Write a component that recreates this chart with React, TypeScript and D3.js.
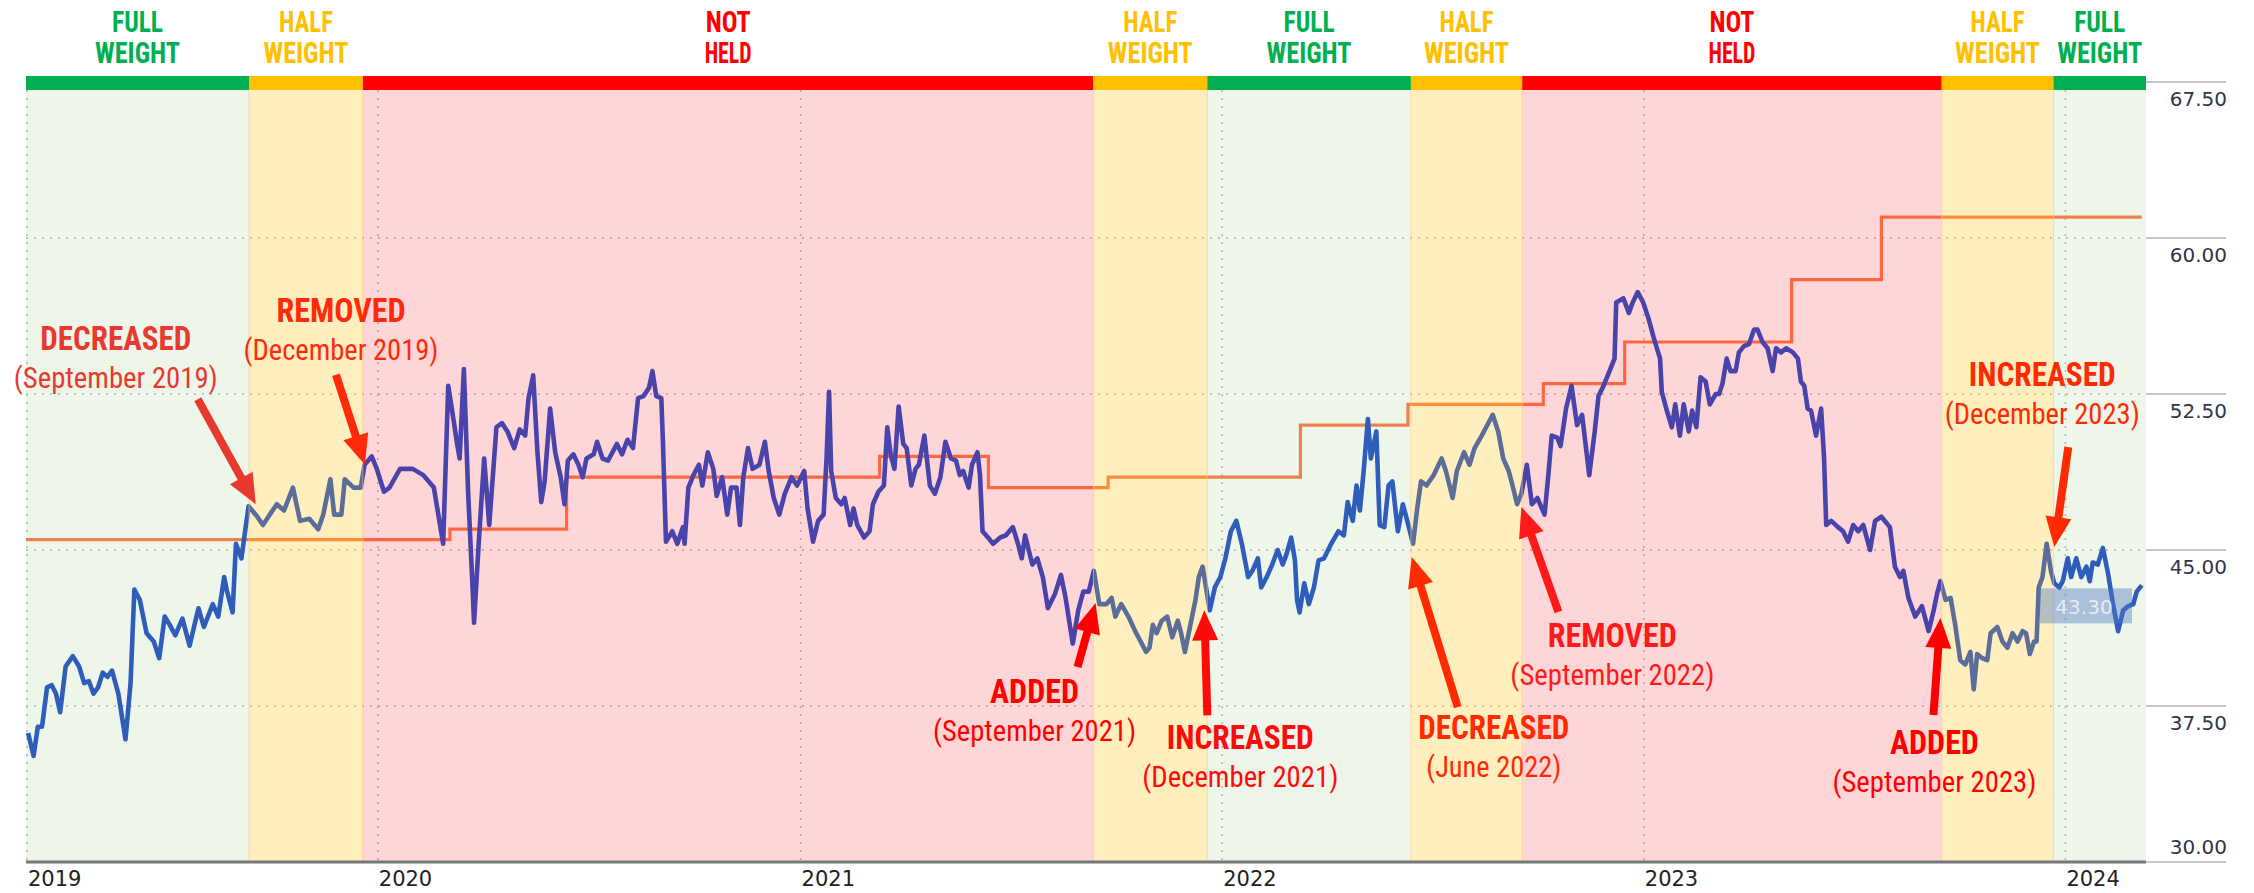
import React from "react";
import * as d3 from "d3";

const W = 2254;
const H = 893;

// closing price, [decimal year, price]
const price: [number, number][] = [
  [2019.173, 36.2], [2019.186, 35.1], [2019.196, 36.5], [2019.206, 36.5], [2019.218, 38.4], [2019.229, 38.5],
  [2019.239, 38.1], [2019.249, 37.2], [2019.262, 39.4], [2019.279, 39.9], [2019.294, 39.4], [2019.306, 38.6],
  [2019.317, 38.7], [2019.328, 38.1], [2019.339, 38.4], [2019.35, 39.1], [2019.361, 38.9], [2019.372, 39.2],
  [2019.387, 38.1], [2019.404, 35.9], [2019.416, 38.6], [2019.425, 43.1], [2019.438, 42.6], [2019.454, 41.0],
  [2019.471, 40.6], [2019.484, 39.8], [2019.497, 41.8], [2019.509, 41.4], [2019.522, 40.9], [2019.539, 41.7],
  [2019.556, 40.4], [2019.577, 42.2], [2019.59, 41.3], [2019.611, 42.4], [2019.624, 41.8], [2019.638, 43.7],
  [2019.645, 43.0], [2019.658, 42.0], [2019.666, 45.3], [2019.679, 44.6], [2019.687, 45.8], [2019.696, 47.1],
  [2019.713, 46.7], [2019.73, 46.2], [2019.746, 46.7], [2019.763, 47.2], [2019.78, 46.9], [2019.801, 48.0],
  [2019.818, 46.4], [2019.84, 46.5], [2019.861, 46.0], [2019.873, 46.7], [2019.89, 48.4], [2019.899, 46.7],
  [2019.916, 46.7], [2019.924, 48.4], [2019.945, 48.0], [2019.962, 48.0], [2019.971, 49.1], [2019.988, 49.5],
  [2020.0, 48.9], [2020.017, 47.8], [2020.03, 48.0], [2020.055, 48.9], [2020.085, 48.9], [2020.11, 48.6],
  [2020.135, 48.0], [2020.157, 45.3], [2020.169, 52.9], [2020.182, 51.2], [2020.19, 50.1], [2020.196, 49.4],
  [2020.206, 53.7], [2020.216, 47.8], [2020.227, 43.0], [2020.23, 41.5], [2020.241, 45.3], [2020.254, 49.4],
  [2020.266, 46.2], [2020.283, 50.9], [2020.296, 51.1], [2020.309, 50.7], [2020.325, 49.9], [2020.338, 50.8],
  [2020.351, 50.5], [2020.359, 52.3], [2020.37, 53.4], [2020.38, 49.7], [2020.389, 47.3], [2020.397, 48.3],
  [2020.41, 51.8], [2020.422, 49.7], [2020.435, 48.5], [2020.444, 47.2], [2020.452, 49.3], [2020.465, 49.6],
  [2020.477, 49.1], [2020.487, 48.5], [2020.496, 49.4], [2020.513, 49.6], [2020.521, 50.2], [2020.534, 49.4],
  [2020.547, 49.3], [2020.568, 50.1], [2020.58, 49.6], [2020.593, 50.3], [2020.606, 49.9], [2020.618, 52.3],
  [2020.631, 52.4], [2020.644, 52.8], [2020.652, 53.6], [2020.661, 52.4], [2020.673, 52.3], [2020.677, 50.1],
  [2020.684, 45.4], [2020.699, 45.9], [2020.711, 45.3], [2020.724, 46.1], [2020.728, 45.3], [2020.737, 48.0],
  [2020.749, 48.6], [2020.762, 49.1], [2020.77, 48.1], [2020.783, 49.7], [2020.796, 48.9], [2020.804, 47.6],
  [2020.817, 48.5], [2020.829, 46.7], [2020.838, 48.0], [2020.851, 48.0], [2020.859, 46.2], [2020.867, 48.5],
  [2020.878, 49.9], [2020.889, 48.9], [2020.905, 49.1], [2020.918, 50.2], [2020.927, 48.8], [2020.939, 47.5],
  [2020.952, 46.7], [2020.965, 47.7], [2020.981, 48.5], [2020.994, 48.1], [2021.011, 48.8], [2021.019, 47.0],
  [2021.032, 45.4], [2021.044, 46.4], [2021.057, 46.7], [2021.064, 49.4], [2021.07, 52.6], [2021.075, 48.8],
  [2021.086, 47.5], [2021.099, 47.2], [2021.107, 47.5], [2021.12, 46.2], [2021.128, 47.0], [2021.137, 46.2],
  [2021.153, 45.6], [2021.166, 45.9], [2021.174, 47.2], [2021.187, 47.8], [2021.2, 48.1], [2021.208, 50.9],
  [2021.216, 49.6], [2021.225, 48.9], [2021.235, 51.9], [2021.246, 50.1], [2021.254, 49.9], [2021.265, 48.1],
  [2021.275, 48.9], [2021.283, 49.1], [2021.296, 50.5], [2021.309, 48.1], [2021.321, 47.7], [2021.334, 48.5],
  [2021.346, 50.2], [2021.359, 49.4], [2021.371, 49.3], [2021.38, 48.6], [2021.388, 48.8], [2021.401, 48.0],
  [2021.409, 49.1], [2021.422, 49.7], [2021.428, 48.6], [2021.434, 45.9], [2021.447, 45.6], [2021.459, 45.3],
  [2021.476, 45.6], [2021.489, 45.7], [2021.506, 46.1], [2021.518, 45.3], [2021.527, 44.6], [2021.535, 45.7],
  [2021.552, 44.3], [2021.564, 44.6], [2021.577, 43.7], [2021.589, 42.2], [2021.606, 42.9], [2021.62, 43.8],
  [2021.631, 42.7], [2021.648, 40.5], [2021.661, 42.1], [2021.673, 43.0], [2021.686, 43.0], [2021.698, 44.0],
  [2021.711, 42.4], [2021.728, 42.4], [2021.74, 42.7], [2021.749, 41.8], [2021.763, 42.4], [2021.78, 41.8],
  [2021.796, 41.1], [2021.809, 40.6], [2021.822, 40.1], [2021.83, 40.3], [2021.838, 41.4], [2021.847, 41.0],
  [2021.859, 41.6], [2021.872, 41.8], [2021.884, 40.8], [2021.897, 41.6], [2021.905, 41.0], [2021.914, 40.1],
  [2021.926, 41.3], [2021.939, 42.6], [2021.947, 43.7], [2021.956, 44.2], [2021.964, 43.2], [2021.973, 42.1],
  [2021.985, 43.2], [2021.998, 43.7], [2022.01, 44.6], [2022.023, 45.9], [2022.036, 46.4], [2022.049, 45.3],
  [2022.064, 43.7], [2022.074, 44.0], [2022.087, 44.6], [2022.095, 43.2], [2022.108, 43.7], [2022.121, 44.3],
  [2022.134, 45.0], [2022.146, 44.3], [2022.155, 44.8], [2022.166, 45.6], [2022.175, 44.5], [2022.18, 42.6],
  [2022.186, 42.0], [2022.197, 43.4], [2022.208, 42.4], [2022.22, 43.2], [2022.231, 44.5], [2022.244, 44.6],
  [2022.261, 45.3], [2022.278, 45.9], [2022.291, 45.7], [2022.3, 47.3], [2022.312, 46.4], [2022.321, 48.1],
  [2022.329, 46.9], [2022.338, 48.8], [2022.348, 51.3], [2022.355, 49.4], [2022.368, 50.7], [2022.376, 46.2],
  [2022.387, 46.1], [2022.397, 48.1], [2022.406, 48.3], [2022.419, 45.9], [2022.431, 47.2], [2022.444, 46.2],
  [2022.455, 45.3], [2022.465, 47.0], [2022.474, 48.3], [2022.487, 48.1], [2022.504, 48.6], [2022.523, 49.4],
  [2022.533, 48.8], [2022.549, 47.5], [2022.559, 48.8], [2022.576, 49.7], [2022.589, 49.1], [2022.601, 49.9],
  [2022.618, 50.5], [2022.631, 51.0], [2022.644, 51.5], [2022.657, 50.7], [2022.669, 49.4], [2022.682, 48.8],
  [2022.691, 48.1], [2022.702, 47.2], [2022.712, 47.7], [2022.725, 49.1], [2022.737, 47.2], [2022.75, 47.5],
  [2022.767, 46.7], [2022.776, 48.6], [2022.784, 50.5], [2022.797, 50.4], [2022.805, 50.0], [2022.818, 51.8],
  [2022.831, 52.9], [2022.844, 51.0], [2022.856, 51.5], [2022.873, 48.6], [2022.886, 50.7], [2022.895, 52.4],
  [2022.907, 52.9], [2022.923, 53.7], [2022.933, 54.2], [2022.937, 56.9], [2022.954, 57.1], [2022.967, 56.4],
  [2022.976, 56.9], [2022.988, 57.4], [2023.001, 56.9], [2023.014, 56.1], [2023.026, 55.2], [2023.041, 54.2],
  [2023.045, 52.6], [2023.057, 51.7], [2023.069, 50.9], [2023.077, 52.0], [2023.088, 50.5], [2023.097, 52.0],
  [2023.109, 50.7], [2023.117, 51.7], [2023.127, 50.9], [2023.137, 53.3], [2023.149, 53.1], [2023.159, 52.0],
  [2023.173, 52.5], [2023.181, 52.5], [2023.189, 53.0], [2023.199, 54.2], [2023.208, 53.6], [2023.22, 53.6],
  [2023.228, 54.5], [2023.24, 54.8], [2023.252, 54.9], [2023.264, 55.6], [2023.272, 55.6], [2023.284, 55.0],
  [2023.296, 54.7], [2023.308, 53.6], [2023.316, 54.7], [2023.328, 54.5], [2023.34, 54.7], [2023.356, 54.5],
  [2023.368, 54.2], [2023.375, 53.1], [2023.383, 52.9], [2023.391, 51.8], [2023.399, 51.7], [2023.411, 50.5],
  [2023.423, 51.8], [2023.43, 49.4], [2023.435, 46.2], [2023.447, 46.4], [2023.463, 46.1], [2023.475, 45.9],
  [2023.487, 45.4], [2023.499, 46.2], [2023.511, 45.9], [2023.523, 46.2], [2023.539, 45.0], [2023.551, 46.4],
  [2023.566, 46.6], [2023.586, 46.1], [2023.598, 44.2], [2023.61, 43.7], [2023.618, 44.0], [2023.63, 42.7],
  [2023.646, 41.8], [2023.662, 42.3], [2023.678, 41.1], [2023.69, 42.1], [2023.698, 42.9], [2023.706, 43.5],
  [2023.718, 42.6], [2023.73, 42.7], [2023.741, 41.4], [2023.753, 39.7], [2023.765, 39.5], [2023.777, 40.1],
  [2023.785, 38.3], [2023.793, 40.0], [2023.805, 39.8], [2023.817, 39.7], [2023.825, 41.0], [2023.841, 41.3],
  [2023.853, 40.6], [2023.865, 40.3], [2023.877, 41.0], [2023.889, 40.6], [2023.901, 41.1], [2023.909, 41.0],
  [2023.918, 40.0], [2023.928, 40.6], [2023.934, 40.6], [2023.939, 43.2], [2023.948, 43.7], [2023.958, 45.3],
  [2023.968, 44.0], [2023.976, 43.4], [2023.988, 43.2], [2023.996, 43.5], [2024.008, 44.6], [2024.016, 43.7],
  [2024.028, 44.6], [2024.04, 43.7], [2024.052, 44.2], [2024.06, 43.5], [2024.067, 44.4], [2024.079, 44.3],
  [2024.091, 45.1], [2024.103, 43.9], [2024.115, 42.4], [2024.127, 41.1], [2024.139, 42.1], [2024.151, 42.3],
  [2024.163, 42.4], [2024.171, 43.0], [2024.183, 43.3],
];

// orange step line (fair value)
const targetT = [2019.168, 2020.173, 2020.449, 2021.19, 2021.448, 2021.732, 2022.188, 2022.443, 2022.764, 2022.957, 2023.353, 2023.566, 2024.183];
const targetV = [45.5, 46.0, 48.5, 49.5, 48.0, 48.5, 51.0, 52.0, 53.0, 55.0, 58.0, 61.0, 61.0];

// weighting periods
const periodBounds = [2019.168, 2019.697, 2019.967, 2021.697, 2021.967, 2022.45, 2022.714, 2023.709, 2023.974, 2024.193];
const periodStates = ["full", "half", "none", "half", "full", "half", "none", "half", "full"];
const stateLabels: Record<string, string[]> = { full: ["FULL", "WEIGHT"], half: ["HALF", "WEIGHT"], none: ["NOT", "HELD"] };

const yTicks = [30, 37.5, 45, 52.5, 60, 67.5];
const yearTicks = [2019, 2020, 2021, 2022, 2023, 2024];
const lastLabel = "43.30";

// annotations: event date / price at the arrow tip
const notes = [
  { action: "DECREASED", when: "(September 2019)", t: 2019.713, v: 47.2, tail: [-58, -105], text: [-140, -154], color: "#e8392f" },
  { action: "REMOVED", when: "(December 2019)", t: 2019.972, v: 49.1, tail: [-29, -90], text: [-24, -143], color: "#ff2a0a" },
  { action: "ADDED", when: "(September 2021)", t: 2021.702, v: 42.45, tail: [-18, 64], text: [-61, 100], color: "#ff0000" },
  { action: "INCREASED", when: "(December 2021)", t: 2021.96, v: 42.1, tail: [3, 105], text: [36, 139], color: "#ff0a0a" },
  { action: "DECREASED", when: "(June 2022)", t: 2022.452, v: 44.66, tail: [46, 150], text: [82, 182], color: "#ff2a00" },
  { action: "REMOVED", when: "(September 2022)", t: 2022.712, v: 47.07, tail: [37, 105], text: [91, 140], color: "#ff1a1a" },
  { action: "ADDED", when: "(September 2023)", t: 2023.706, v: 41.73, tail: [-7, 97], text: [-6, 136], color: "#ff0000" },
  { action: "INCREASED", when: "(December 2023)", t: 2023.976, v: 45.14, tail: [14, -100], text: [-12, -161], color: "#ff2a00" },
];

const textWidths: Record<string, number> = {
  FULL: 51, HALF: 54, WEIGHT: 85, NOT: 45, HELD: 47,
  DECREASED: 151, REMOVED: 129, ADDED: 89, INCREASED: 147,
  "(September 2019)": 204, "(December 2019)": 195, "(September 2021)": 203, "(December 2021)": 196,
  "(June 2022)": 135, "(September 2022)": 204, "(September 2023)": 204, "(December 2023)": 195,
};

const bandColor: Record<string, string> = { full: "#00b050", half: "#ffc000", none: "#ff0000" };
const overlayColor: Record<string, string> = { full: "#70ad47", half: "#ffbe00", none: "#ff0005" };
const overlayOpacity: Record<string, number> = { full: 0.12, half: 0.25, none: 0.16 };

const narrow = "'Liberation Sans Narrow', 'Arial Narrow', 'Roboto Condensed', sans-serif";
const axisFont = "'DejaVu Sans', Verdana, sans-serif";

const fromYear = (t: number) => {
  const yr = Math.floor(t);
  const a = +new Date(yr, 0, 1);
  const b = +new Date(yr + 1, 0, 1);
  return new Date(a + (t - yr) * (b - a));
};

function Arrow({ tip, tail, color }: { tip: number[]; tail: number[]; color: string }) {
  const dx = tip[0] - tail[0];
  const dy = tip[1] - tail[1];
  const len = Math.hypot(dx, dy);
  const ux = dx / len;
  const uy = dy / len;
  const headLen = 30;
  const half = 13;
  const bx = tip[0] - ux * headLen;
  const by = tip[1] - uy * headLen;
  const pts = [
    [tip[0], tip[1]],
    [bx - uy * half, by + ux * half],
    [bx + uy * half, by - ux * half],
  ];
  return (
    <g>
      <line x1={tail[0]} y1={tail[1]} x2={bx + ux * 2} y2={by + uy * 2} stroke={color} strokeWidth={8} />
      <polygon points={pts.map((p) => p.join(",")).join(" ")} fill={color} />
    </g>
  );
}

export default function App() {
  const left = 26;
  const right = 2146;
  const plotTop = 90;
  const bottom = 862;

  const x = d3.scaleTime().domain([fromYear(periodBounds[0]), fromYear(periodBounds[periodBounds.length - 1])]).range([left, right]);
  const y = d3.scaleLinear().domain([30, 67.5]).range([bottom, 82]);

  const priceLine = d3
    .line<[number, number]>()
    .x((d) => x(fromYear(d[0])))
    .y((d) => y(d[1]))
    .curve(d3.curveLinear);

  const targetLine = d3
    .line<number>()
    .x((_, i) => x(fromYear(targetT[i])))
    .y((d) => y(d))
    .curve(d3.curveStepAfter);

  const periods = periodStates.map((s, i) => ({
    state: s,
    x0: x(fromYear(periodBounds[i])),
    x1: x(fromYear(periodBounds[i + 1])),
  }));

  const yearX = (yr: number) => (yr === yearTicks[0] ? left : x(new Date(yr, 0, 1)));

  const last = price[price.length - 1];
  const lastY = y(last[1]);

  return (
    <svg width={W} height={H} style={{ position: "absolute", left: 0, top: 0, background: "#fff" }}>
      <rect x={0} y={0} width={W} height={H} fill="#fff" />

      {/* gridlines */}
      {yTicks.slice(1, -1).map((v) => (
        <line key={"gy" + v} x1={left} x2={right} y1={y(v)} y2={y(v)} stroke="#b8b8b8" strokeWidth={1.5} strokeDasharray="2,6" />
      ))}
      {yearTicks.map((yr) => (
        <line key={"gx" + yr} x1={yearX(yr) + 1} x2={yearX(yr) + 1} y1={plotTop} y2={bottom} stroke="#b8b8b8" strokeWidth={1.5} strokeDasharray="2,6" />
      ))}

      {/* price lines */}
      <path d={targetLine(targetV) || ""} fill="none" stroke="#ff5a1f" strokeOpacity={0.8} strokeWidth={3.2} />
      <path d={priceLine(price) || ""} fill="none" stroke="#2552cc" strokeWidth={4.6} strokeLinejoin="round" />

      {/* holding period overlays */}
      {periods.map((p, i) => (
        <rect
          key={"ov" + i}
          x={p.x0}
          y={plotTop}
          width={p.x1 - p.x0}
          height={bottom - plotTop}
          fill={overlayColor[p.state]}
          fillOpacity={overlayOpacity[p.state]}
        />
      ))}
      {periods.slice(1).map((p, i) => (
        <line key={"pb" + i} x1={p.x0} x2={p.x0} y1={plotTop} y2={bottom} stroke="#ffc880" strokeOpacity={0.6} strokeWidth={1} />
      ))}

      {/* last price label */}
      <rect x={2040} y={lastY + 3} width={92} height={35} fill="#4f7ac4" fillOpacity={0.42} />
      <text x={2084} y={lastY + 29} textAnchor="middle" fontFamily={axisFont} fontSize={20} fill="#eef2fa" fillOpacity={0.9}>
        {lastLabel}
      </text>

      {/* x axis */}
      <line x1={left} x2={right} y1={bottom} y2={bottom} stroke="#777" strokeWidth={3} />
      {yearTicks.map((yr) => (
        <text key={"yl" + yr} x={yearX(yr) + 2} y={886} fontFamily={axisFont} fontSize={21} fill="#222">
          {yr}
        </text>
      ))}

      {/* y axis on the right */}
      {yTicks.map((v, i) => (
        <g key={"yt" + v}>
          <line x1={right} x2={2226} y1={y(v)} y2={y(v)} stroke="#c8c8c8" strokeWidth={2} />
          <text
            x={2227}
            y={i === 0 ? y(v) - 8 : y(v) + 24}
            textAnchor="end"
            fontFamily={axisFont}
            fontSize={20}
            fill="#33334a"
          >
            {v.toFixed(2)}
          </text>
        </g>
      ))}

      {/* top status band */}
      {periods.map((p, i) => (
        <rect key={"band" + i} x={p.x0} y={76} width={p.x1 - p.x0} height={14} fill={bandColor[p.state]} />
      ))}
      {periods.map((p, i) => {
        const cx = (p.x0 + p.x1) / 2;
        const [l1, l2] = stateLabels[p.state];
        return (
          <g key={"bl" + i} fontFamily={narrow} fontSize={30} fontWeight="bold" fill={bandColor[p.state]} textAnchor="middle">
            <text x={cx} y={32} textLength={textWidths[l1]} lengthAdjust="spacingAndGlyphs">
              {l1}
            </text>
            <text x={cx} y={63} textLength={textWidths[l2]} lengthAdjust="spacingAndGlyphs">
              {l2}
            </text>
          </g>
        );
      })}

      {/* annotations */}
      {notes.map((n, i) => {
        const tx = x(fromYear(n.t));
        const ty = y(n.v);
        const cx = tx + n.text[0];
        const by = ty + n.text[1];
        return (
          <g key={"note" + i}>
            <Arrow tip={[tx, ty]} tail={[tx + n.tail[0], ty + n.tail[1]]} color={n.color} />
            <text
              x={cx}
              y={by}
              textAnchor="middle"
              fontFamily={narrow}
              fontWeight="bold"
              fontSize={33}
              fill={n.color}
              textLength={textWidths[n.action]}
              lengthAdjust="spacingAndGlyphs"
            >
              {n.action}
            </text>
            <text
              x={cx}
              y={by + 38}
              textAnchor="middle"
              fontFamily={narrow}
              fontSize={30}
              fill={n.color}
              textLength={textWidths[n.when]}
              lengthAdjust="spacingAndGlyphs"
            >
              {n.when}
            </text>
          </g>
        );
      })}
    </svg>
  );
}
